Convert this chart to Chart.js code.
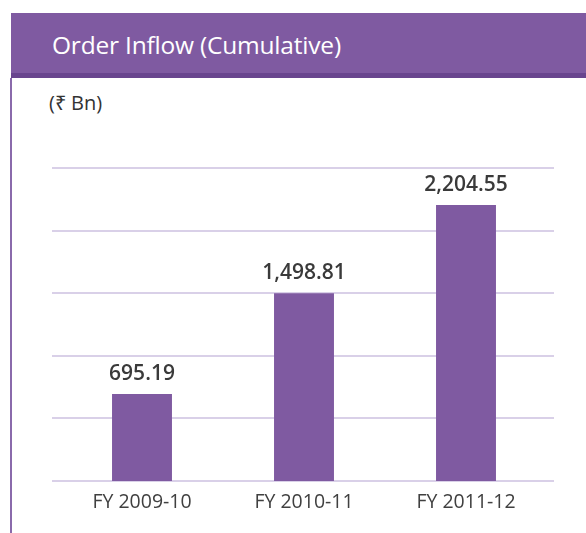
<!DOCTYPE html>
<html>
<head>
<meta charset="utf-8">
<script src="https://cdn.jsdelivr.net/npm/chart.js@4/dist/chart.umd.min.js"></script>
<style>
  html, body { margin: 0; padding: 0; background: #fff; }
  #wrap { position: relative; width: 586px; height: 533px; overflow: hidden; font-family: "Open Sans", sans-serif; }
  #head { position: absolute; left: 11px; top: 13px; width: 575px; height: 60px; background: #7f5aa1; border-bottom: 5px solid #69458e; }
  #title { position: absolute; left: 41px; top: 16px; color: #fff; font-size: 24.5px; line-height: 32px; white-space: nowrap; letter-spacing: -0.2px; }
  #vline { position: absolute; left: 10px; top: 78px; width: 2px; height: 455px; background: #8a6aab; }
  #unit { position: absolute; left: 49px; top: 89px; font-size: 20px; line-height: 28px; color: #333; }
  #c { position: absolute; left: 0; top: 0; }
</style>
</head>
<body>
<div id="wrap">
  <div id="head"><div id="title">Order Inflow (Cumulative)</div></div>
  <div id="vline"></div>
  <div id="unit">(₹ Bn)</div>
  <canvas id="c" width="586" height="533"></canvas>
</div>
<script>
const categories = ["FY 2009-10", "FY 2010-11", "FY 2011-12"];
const orderInflow = [695.19, 1498.81, 2204.55];
const valueLabels = ["695.19", "1,498.81", "2,204.55"];

const gridPlugin = {
  id: 'extGrid',
  beforeDatasetsDraw(chart) {
    const y = chart.scales.y, a = chart.chartArea, ctx = chart.ctx;
    ctx.save();
    ctx.strokeStyle = '#d9d0e8';
    ctx.lineWidth = 2;
    y.ticks.forEach(t => {
      const py = Math.round(y.getPixelForValue(t.value));
      ctx.beginPath();
      ctx.moveTo(a.left - 9, py);
      ctx.lineTo(a.right + 7, py);
      ctx.stroke();
    });
    ctx.restore();
  }
};
const labelPlugin = {
  id: 'valLabels',
  afterDatasetsDraw(chart) {
    const ctx = chart.ctx;
    const meta = chart.getDatasetMeta(0);
    ctx.save();
    ctx.font = '600 21px "Open Sans", sans-serif';
    ctx.fillStyle = '#3a3a3a';
    ctx.textAlign = 'center';
    ctx.textBaseline = 'middle';
    meta.data.forEach((bar, i) => {
      ctx.fillText(valueLabels[i], bar.x, bar.y - 20);
    });
    ctx.restore();
  }
};

new Chart(document.getElementById('c'), {
  type: 'bar',
  data: {
    labels: categories,
    datasets: [{
      data: orderInflow,
      backgroundColor: '#7f5aa1',
      borderWidth: 0,
      barPercentage: 0.37,
      categoryPercentage: 1.0
    }]
  },
  options: {
    responsive: false,
    animation: false,
    events: [],
    layout: { padding: { top: 168, left: 61, right: 39, bottom: 0 } },
    plugins: { legend: { display: false }, tooltip: { enabled: false } },
    scales: {
      x: {
        grid: { display: false },
        border: { display: false },
        ticks: { color: '#404040', font: { family: '"Open Sans", sans-serif', size: 19.5 }, padding: 2 },
        afterFit(s) { s.height = 52; }
      },
      y: {
        display: true,
        min: 0, max: 2500,
        ticks: { display: false, stepSize: 500 },
        grid: { display: false },
        border: { display: false },
        afterFit(s) { s.width = 0; }
      }
    }
  },
  plugins: [gridPlugin, labelPlugin]
});
</script>
</body>
</html>
